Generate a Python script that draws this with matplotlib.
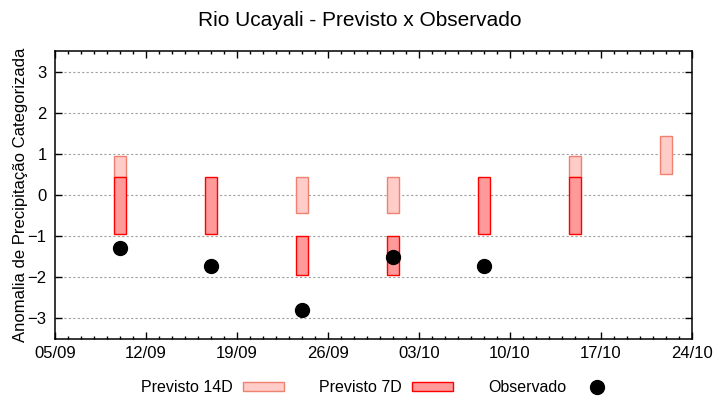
import matplotlib
matplotlib.use('Agg')
import matplotlib.pyplot as plt
import matplotlib.dates as mdates
from matplotlib.patches import Patch
from matplotlib.lines import Line2D
import pandas as pd

plt.rcParams['font.family'] = ['Liberation Sans', 'DejaVu Sans']

# Previsto 14D (caixas claras)
datas_14d = ['2023-09-10', '2023-09-24', '2023-10-01', '2023-10-15', '2023-10-22']
inf_14d = [0.44, -0.44, -0.44, 0.44, 0.51]
sup_14d = [0.95, 0.44, 0.44, 0.95, 1.44]

# Previsto 7D (caixas escuras)
datas_7d = ['2023-09-10', '2023-09-17', '2023-09-24', '2023-10-01', '2023-10-08', '2023-10-15']
inf_7d = [-0.95, -0.95, -1.95, -1.95, -0.95, -0.95]
sup_7d = [0.44, 0.44, -1.0, -1.0, 0.44, 0.44]

# Observado
datas_obs = ['2023-09-10', '2023-09-17', '2023-09-24', '2023-10-01', '2023-10-08']
obs = [-1.29, -1.72, -2.8, -1.51, -1.72]

# eixo x
inicio, fim = '2023-09-05', '2023-10-24'

x14 = mdates.date2num(pd.to_datetime(datas_14d))
x7 = mdates.date2num(pd.to_datetime(datas_7d))
xo = mdates.date2num(pd.to_datetime(datas_obs))

fig = plt.figure(figsize=(7.2, 4.0), dpi=100)
ax = fig.add_axes([0.0764, 0.1525, 0.8847, 0.72])

larg = 0.95
ax.bar(x14, [s - i for s, i in zip(sup_14d, inf_14d)], bottom=inf_14d, width=larg,
       color='#ffccc8', edgecolor='#f08070', linewidth=1.0, zorder=3)
ax.bar(x7, [s - i for s, i in zip(sup_7d, inf_7d)], bottom=inf_7d, width=larg,
       color='#ff9a9a', edgecolor='#ff0000', linewidth=1.0, zorder=4)
ax.plot(xo, obs, 'o', color='black', markersize=10, zorder=5)

ax.set_xlim(mdates.date2num(pd.Timestamp(inicio)), mdates.date2num(pd.Timestamp(fim)))
ax.set_ylim(-3.5, 3.5)
ax.set_yticks([-3, -2, -1, 0, 1, 2, 3])
ax.set_xticks(mdates.date2num(pd.date_range(inicio, fim, freq='7D')))
ax.xaxis.set_minor_locator(mdates.DayLocator())
ax.xaxis.set_major_formatter(mdates.DateFormatter('%d/%m'))

ax.grid(axis='y', color='#a0a0a0', linestyle=(0, (2, 2)), linewidth=0.8, zorder=1)
ax.tick_params(which='both', direction='in', top=True, right=True, labelsize=12, width=1)
ax.tick_params(which='major', length=5)
ax.tick_params(which='minor', length=2.5)
ax.tick_params(axis='y', pad=6)
ax.tick_params(axis='x', pad=5)
for s in ax.spines.values():
    s.set_linewidth(1.1)

ax.set_ylabel('Anomalia de Precipitação Categorizada', fontsize=12, labelpad=0)
fig.text(0.5, 0.948, 'Rio Ucayali - Previsto x Observado', ha='center', va='center', fontsize=15)

handles = [Patch(facecolor='#ffccc8', edgecolor='#f08070', linewidth=1.0),
           Patch(facecolor='#ff9a9a', edgecolor='#ff0000', linewidth=1.0),
           Line2D([], [], marker='o', color='black', linestyle='none', markersize=10)]
fig.legend(handles, ['Previsto 14D', 'Previsto 7D', 'Observado'], loc='center',
           bbox_to_anchor=(0.527, 0.031), ncol=3, frameon=False, fontsize=11.5,
           markerfirst=False, handlelength=2.6, handleheight=0.45, handletextpad=0.6,
           columnspacing=2.2)

plt.savefig('out.png', dpi=100)
plt.close()
